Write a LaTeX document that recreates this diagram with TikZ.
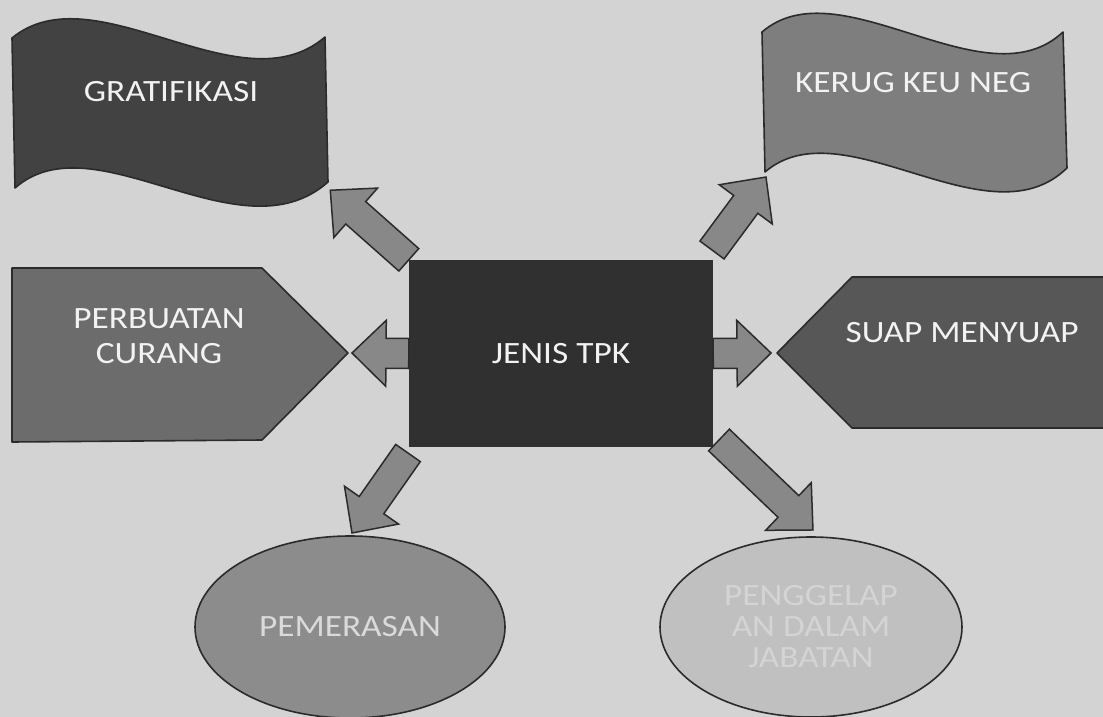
\documentclass[tikz,border=0pt]{standalone}
\usepackage{fontspec}
\setmainfont{Carlito}[FakeStretch=1.14]
\usetikzlibrary{shapes.geometric,calc}

\definecolor{bg}{HTML}{D3D3D3}
\definecolor{edge}{HTML}{2B2B2B}
\definecolor{gratfill}{HTML}{424242}
\definecolor{kerugfill}{HTML}{7E7E7E}
\definecolor{perbfill}{HTML}{6C6C6C}
\definecolor{suapfill}{HTML}{575757}
\definecolor{tpkfill}{HTML}{303030}
\definecolor{pemfill}{HTML}{8C8C8C}
\definecolor{pengfill}{HTML}{C0C0C0}
\definecolor{pengtext}{HTML}{D4D4D4}
\definecolor{arrfill}{HTML}{888888}
\definecolor{labeltext}{HTML}{F2F2F2}

\tikzset{
  shapeedge/.style={draw=edge, line width=1.6pt, line join=round},
  label/.style={text=labeltext, font=\fontsize{31}{35}\selectfont, align=center, inner sep=0pt},
  blockarrowstyle/.style={fill=arrfill, draw=edge, line width=1.5pt, line join=miter},
}

% block arrow from one named coordinate to another
\makeatletter
\newcommand\blockarrow[2]{%
  \pgfpointdiff{\pgfpointanchor{#1}{center}}{\pgfpointanchor{#2}{center}}%
  \pgf@xa=\pgf@x \pgf@ya=\pgf@y
  \pgfmathveclen{\the\pgf@xa}{\the\pgf@ya}\let\ba@len\pgfmathresult
  \pgfmathatantwo{\the\pgf@ya}{\the\pgf@xa}\let\ba@ang\pgfmathresult
  \draw[blockarrowstyle, shift={(#1)}, rotate=\ba@ang]
    (0pt,-15pt) -- ({\ba@len pt-34pt},-15pt) -- ({\ba@len pt-34pt},-33pt)
    -- ({\ba@len pt},0pt) -- ({\ba@len pt-34pt},33pt) -- ({\ba@len pt-34pt},15pt)
    -- (0pt,15pt) -- cycle;
}
\makeatother

\begin{document}
\begin{tikzpicture}[x=1pt,y=-1pt]
  % canvas
  \useasboundingbox (0,0) rectangle (1103,717);
  \clip (0,0) rectangle (1103,717);
  \fill[bg] (0,0) rectangle (1103,717);

  % centre box
  \node[fill=tpkfill, minimum width=304pt, minimum height=187pt, label] (tpk) at (561,353.5) {JENIS TPK};

  % waving flags
  \draw[shapeedge, fill=gratfill]
    (12,38) .. controls (95,-30) and (240,110) .. (325,37)
    -- (328,182) .. controls (240,260) and (95,118) .. (15,188) -- cycle;
  \node[label] (grat) at (171,92) {GRATIFIKASI};

  \draw[shapeedge, fill=kerugfill]
    (762,32) .. controls (840,-35) and (985,105) .. (1063,32)
    -- (1067,168) .. controls (988,245) and (843,105) .. (765,172) -- cycle;
  \node[label] (kerug) at (913,83) {KERUG KEU NEG};

  % pointed panels
  \draw[shapeedge, fill=perbfill]
    (12,268) -- (262,268) -- (348,353) -- (262,440) -- (12,442) -- cycle;
  \node[label] (perb) at (159,336) {PERBUATAN\\CURANG};

  \draw[shapeedge, fill=suapfill]
    (777,353) -- (852,277) -- (1115,277) -- (1115,428) -- (852,428) -- cycle;
  \node[label] (suap) at (962,333) {SUAP MENYUAP};

  % ovals
  \node[ellipse, shapeedge, fill=pemfill, minimum width=310pt, minimum height=182pt, inner sep=0pt] (pem) at (350,627) {};
  \node[label, text=labeltext!90!black] at (pem.center) {PEMERASAN};

  \node[ellipse, shapeedge, fill=pengfill, minimum width=302pt, minimum height=180pt, inner sep=0pt] (peng) at (811,627) {};
  \node[label, text=pengtext, font=\fontsize{31}{31}\selectfont] at (peng.center) {PENGGELAP\\AN DALAM\\JABATAN};

  % arrow ends
  \coordinate (g-in) at (330,190);
  \coordinate (k-in) at (766,177);
  \coordinate (p-in) at (352,353);
  \coordinate (s-in) at (771,353);
  \coordinate (m-in) at (352,533);
  \coordinate (j-in) at (813,530);
  \coordinate (o-nw) at (tpk.north west);
  \coordinate (o-ne) at (712,250);
  \coordinate (o-w) at (tpk.west);
  \coordinate (o-e) at (tpk.east);
  \coordinate (o-sw) at (408,453);
  \coordinate (o-se) at (719,440);

  \blockarrow{o-nw}{g-in}
  \blockarrow{o-ne}{k-in}
  \blockarrow{o-w}{p-in}
  \blockarrow{o-e}{s-in}
  \blockarrow{o-sw}{m-in}
  \blockarrow{o-se}{j-in}
\end{tikzpicture}
\end{document}
